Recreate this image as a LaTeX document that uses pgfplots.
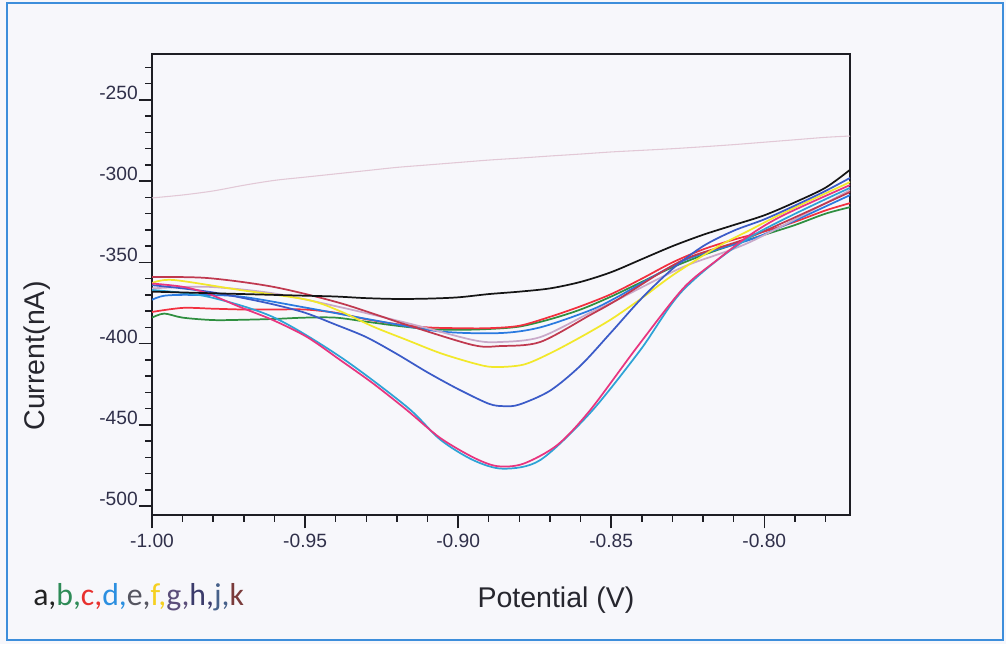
\documentclass[border=0pt]{standalone}
\usepackage{fontspec}
\setmainfont{Liberation Sans}
\newfontfamily\cali{Carlito}
\usepackage{pgfplots}
\pgfplotsset{compat=1.18}
\definecolor{bgc}{HTML}{F7F7FB}
\definecolor{borderc}{HTML}{3D8EDB}
\definecolor{axc}{HTML}{1E1E24}
\definecolor{tickc}{HTML}{30304A}
\definecolor{labc}{HTML}{26262E}
\definecolor{cblack}{HTML}{151515}
\definecolor{cfaint}{HTML}{E2C8D6}
\definecolor{cred}{HTML}{F2303F}
\definecolor{cgreen}{HTML}{2F8F40}
\definecolor{cdodger}{HTML}{2A7AE0}
\definecolor{croyal}{HTML}{3B5BC8}
\definecolor{ccyan}{HTML}{2DA3D6}
\definecolor{cmag}{HTML}{E8357F}
\definecolor{cyel}{HTML}{F2E82A}
\definecolor{clav}{HTML}{C9A9C9}
\definecolor{cbrown}{HTML}{C0394F}
\definecolor{la}{HTML}{222222}
\definecolor{lb}{HTML}{2E8B57}
\definecolor{lc}{HTML}{E8302E}
\definecolor{ld}{HTML}{2C8FE0}
\definecolor{le}{HTML}{555560}
\definecolor{lf}{HTML}{F5D020}
\definecolor{lg}{HTML}{5B4E7A}
\definecolor{lh}{HTML}{3B3B6B}
\definecolor{lj}{HTML}{46608A}
\definecolor{lk}{HTML}{7A3B3B}
\begin{document}
\begin{tikzpicture}
\fill[bgc] (0,0) rectangle (754.5pt,483pt);
\draw[borderc, line width=2pt] (5.25pt,3pt) rectangle (752.25pt,480.75pt);
\begin{axis}[
  at={(114pt,96.75pt)}, anchor=south west,
  scale only axis, width=523.5pt, height=345.75pt,
  xmin=-1, xmax=-0.772, ymin=-505.5, ymax=-221.7,
  xtick={-1,-0.95,-0.9,-0.85,-0.8},
  xticklabels={-1.00,-0.95,-0.90,-0.85,-0.80},
  ytick={-500,-450,-400,-350,-300,-250},
  yticklabels={-500,-450,-400,-350,-300,-250},
  minor xtick={-0.99,-0.98,-0.97,-0.96,-0.94,-0.93,-0.92,-0.91,-0.89,-0.88,-0.87,-0.86,-0.84,-0.83,-0.82,-0.81,-0.79,-0.78},
  minor ytick={-490,-480,-470,-460,-440,-430,-420,-410,-390,-380,-370,-360,-340,-330,-320,-310,-290,-280,-270,-260,-240,-230},
  tick pos=left, tick align=outside,
  major tick length=10pt, minor tick length=5pt,
  every tick/.style={line width=1.1pt, color=axc},
  axis line style={line width=1.4pt, color=axc},
  ticklabel style={font=\fontsize{14.4}{14.4}\selectfont, text=tickc},
  yticklabel style={anchor=south east, inner sep=0pt, xshift=-0.5pt},
  xticklabel style={anchor=north, inner sep=0pt, yshift=-4pt},
  axis background/.style={fill=bgc},
  every axis plot/.append style={line width=1.3pt, smooth, tension=0.5},
]
% faint top line
\addplot[cfaint, line width=0.8pt] coordinates {(-1.00,-310.3) (-0.99,-308.5) (-0.98,-306) (-0.97,-302.5) (-0.96,-299.5) (-0.95,-297.5) (-0.94,-295.5) (-0.93,-293.5) (-0.92,-291.5) (-0.91,-290) (-0.90,-288.5) (-0.89,-287) (-0.88,-285.8) (-0.87,-284.5) (-0.86,-283.3) (-0.85,-282) (-0.84,-281) (-0.83,-280) (-0.82,-278.8) (-0.81,-277.5) (-0.80,-276) (-0.79,-274.5) (-0.78,-273) (-0.772,-272.2)};
% green
\addplot[cgreen] coordinates {(-1.00,-384) (-0.996,-381.5) (-0.99,-384) (-0.98,-385.5) (-0.97,-385.3) (-0.96,-384.8) (-0.95,-384) (-0.94,-384) (-0.93,-386.5) (-0.92,-389) (-0.91,-391) (-0.90,-391.5) (-0.89,-391) (-0.88,-389.5) (-0.87,-385) (-0.86,-379) (-0.85,-371) (-0.84,-362) (-0.83,-353) (-0.82,-345.5) (-0.81,-339) (-0.80,-333) (-0.79,-327) (-0.78,-320) (-0.772,-316)};
% red
\addplot[cred] coordinates {(-1.00,-380.5) (-0.99,-378) (-0.98,-378.5) (-0.97,-379) (-0.96,-379) (-0.95,-379) (-0.94,-381) (-0.93,-385) (-0.92,-388) (-0.91,-390) (-0.90,-390.5) (-0.89,-390.5) (-0.88,-389) (-0.87,-383.5) (-0.86,-377) (-0.85,-369.5) (-0.84,-360) (-0.83,-350) (-0.82,-342) (-0.81,-336) (-0.80,-331) (-0.79,-325) (-0.78,-318) (-0.772,-313.5)};
% dodger blue
\addplot[cdodger] coordinates {(-1.00,-373) (-0.996,-370.5) (-0.9876,-370) (-0.9712,-371) (-0.9493,-378) (-0.9278,-385.5) (-0.9059,-392.5) (-0.8863,-393.5) (-0.8732,-390) (-0.8569,-379.5) (-0.848,-371.3) (-0.8265,-349) (-0.8046,-336) (-0.7938,-327.5) (-0.7719,-308.5)};
% lavender
\addplot[clav] coordinates {(-1.00,-366) (-0.982,-365) (-0.9605,-369) (-0.9386,-377.5) (-0.9167,-387.3) (-0.8951,-397.8) (-0.8863,-399) (-0.8732,-396) (-0.8569,-381) (-0.848,-373) (-0.8265,-352.8) (-0.8046,-337.4) (-0.7719,-305.4)};
% brown-red
\addplot[cbrown] coordinates {(-1.00,-359) (-0.982,-359.6) (-0.9605,-365) (-0.9386,-375) (-0.9167,-388.5) (-0.8951,-400.9) (-0.8863,-401.5) (-0.8732,-399) (-0.8569,-382.4) (-0.848,-373) (-0.8265,-348.5) (-0.8046,-334.4) (-0.7719,-306.6)};
% yellow
\addplot[cyel] coordinates {(-1.00,-362.7) (-0.9931,-360.8) (-0.9712,-367) (-0.9493,-373) (-0.9386,-380) (-0.9278,-389.5) (-0.9167,-397.8) (-0.9059,-405.8) (-0.8951,-412) (-0.8886,-414.4) (-0.8788,-413) (-0.87,-406) (-0.86,-396) (-0.85,-385) (-0.84,-372) (-0.83,-358) (-0.8154,-340.5) (-0.8046,-330) (-0.7938,-319.6) (-0.7719,-300.5)};
% royal blue
\addplot[croyal] coordinates {(-1.00,-364) (-0.99,-366) (-0.98,-368.5) (-0.97,-372) (-0.96,-376) (-0.95,-381) (-0.94,-388.3) (-0.93,-396) (-0.92,-406.4) (-0.91,-417.7) (-0.90,-428) (-0.89,-437) (-0.885,-438.5) (-0.88,-437.5) (-0.87,-429) (-0.86,-413.5) (-0.85,-393) (-0.84,-372) (-0.83,-354) (-0.82,-340) (-0.81,-330.5) (-0.80,-323.5) (-0.79,-315) (-0.78,-306) (-0.772,-298)};
% cyan
\addplot[ccyan] coordinates {(-1.00,-367) (-0.982,-371) (-0.9605,-383.6) (-0.9386,-408) (-0.9167,-439) (-0.9059,-459) (-0.8951,-471.7) (-0.8853,-477) (-0.8732,-471.7) (-0.8569,-442.7) (-0.8405,-404) (-0.8265,-367) (-0.8046,-334.4) (-0.7719,-304)};
% magenta
\addplot[cmag] coordinates {(-1.00,-363) (-0.99,-365) (-0.982,-369) (-0.9712,-377.5) (-0.9605,-385.5) (-0.9493,-396) (-0.9386,-410) (-0.9278,-424.5) (-0.9167,-441) (-0.9059,-458) (-0.8951,-470) (-0.8873,-475.4) (-0.8788,-474) (-0.8676,-462.4) (-0.8569,-441) (-0.8415,-402) (-0.8265,-366) (-0.8154,-348.5) (-0.8046,-333) (-0.7938,-321) (-0.7719,-302.3)};
% black
\addplot[cblack] coordinates {(-1.00,-368) (-0.99,-368.5) (-0.98,-369) (-0.97,-369.5) (-0.96,-370) (-0.95,-370.5) (-0.94,-371) (-0.93,-372) (-0.92,-372.5) (-0.91,-372.3) (-0.90,-371.5) (-0.89,-369.5) (-0.88,-368) (-0.87,-366) (-0.86,-362) (-0.85,-356) (-0.84,-348) (-0.83,-340) (-0.82,-333) (-0.81,-327) (-0.80,-321) (-0.79,-313) (-0.78,-304) (-0.772,-293)};
\end{axis}
\node[rotate=90, font=\fontsize{21.4}{21.4}\selectfont, text=labc] at (27.75pt,216pt) {Current(nA)};
\node[anchor=base, font=\fontsize{21.4}{21.4}\selectfont, text=labc] at (417pt,27.75pt) {Potential (V)};
\node[anchor=base west, inner sep=0pt, font=\cali\fontsize{23.8}{24}\selectfont] at (24.75pt,29.25pt) {\textcolor{la}{a,}\textcolor{lb}{b,}\textcolor{lc}{c,}\textcolor{ld}{d,}\textcolor{le}{e,}\textcolor{lf}{f,}\textcolor{lg}{g,}\textcolor{lh}{h,}\textcolor{lj}{j,}\textcolor{lk}{k}};
\end{tikzpicture}
\end{document}
